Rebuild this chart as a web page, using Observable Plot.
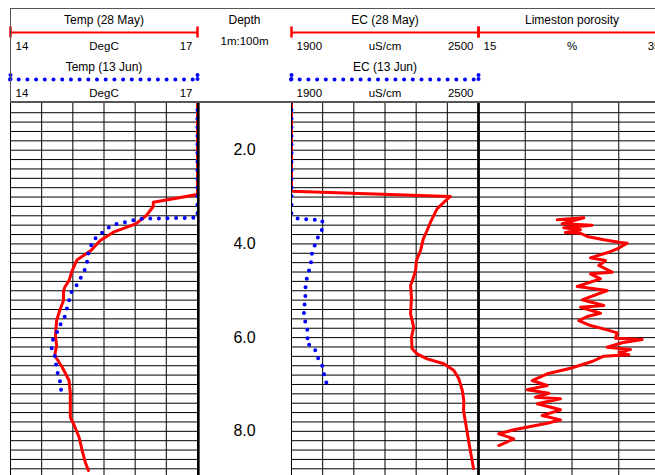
<!DOCTYPE html>
<html><head><meta charset="utf-8">
<script src="https://cdn.jsdelivr.net/npm/d3@7"></script>
<script src="https://cdn.jsdelivr.net/npm/@observablehq/plot@0.6"></script>
<style>
html,body{margin:0;padding:0;background:#fff;}
#chart{position:relative;width:655px;height:475px;overflow:hidden;background:#fff;font-family:"Liberation Sans",Arial,sans-serif;}
#chart svg{position:absolute;overflow:visible;}
.ln{position:absolute;background:#555;}
</style></head><body><div id="chart"></div>
<script>
// ---------- data ----------
const tempTicks = [14, 14.5, 15, 15.5, 16, 16.5, 17];
const ecTicks = [1900, 2000, 2100, 2200, 2300, 2400, 2500];
const poroTicks = [15, 20, 25, 30, 35];
const depthLabels = [2, 4, 6, 8];
const tempLabels = ["14", "DegC", "17"];
const ecLabels = ["1900", "uS/cm", "2500"];
const poroLabels = ["15", "%", "35"];

const tempMayDepth = [0.96, 2.946, 3.110, 3.202, 3.394, 3.571, 3.750, 3.927, 4.141, 4.339, 4.418, 4.604, 4.781, 4.924, 5.031, 5.208, 5.422, 5.635, 5.955, 6.169, 6.382, 6.632, 6.916, 7.193, 7.699, 7.834, 8.126, 8.410, 8.660, 8.837];
const tempMay = [17, 17, 16.29, 16.29, 16.18, 16.01, 15.65, 15.44, 15.29, 15.07, 15.04, 14.98, 14.94, 14.87, 14.85, 14.85, 14.79, 14.74, 14.72, 14.74, 14.71, 14.83, 14.94, 14.96, 14.96, 15.01, 15.10, 15.15, 15.20, 15.25];

const tempJunDepth = [0.96, 3.44, 3.464, 3.516, 3.550, 3.592, 3.699, 3.821, 3.927, 4.092, 4.226, 4.376, 4.532, 4.689, 4.852, 4.980, 5.138, 5.279, 5.443, 5.599, 5.742, 5.906, 6.047, 6.233, 6.389, 6.568, 6.730, 6.901, 7.101, 7.285];
const tempJun = [17, 17, 16.05, 15.91, 15.78, 15.64, 15.52, 15.42, 15.32, 15.28, 15.24, 15.23, 15.20, 15.14, 15.08, 14.99, 14.95, 14.93, 14.89, 14.86, 14.79, 14.74, 14.68, 14.66, 14.71, 14.73, 14.75, 14.79, 14.81, 14.82];

const ecMayDepth = [0.96, 2.875, 2.988, 3.110, 3.251, 3.358, 3.537, 3.714, 3.891, 4.141, 4.354, 4.568, 4.745, 4.888, 5.138, 5.492, 5.778, 5.992, 6.239, 6.346, 6.453, 6.559, 6.702, 6.880, 7.129, 7.343, 7.556, 8.196, 8.794];
const ecMay = [1900, 1900, 2410, 2389, 2367, 2359, 2346, 2335, 2323, 2314, 2301, 2298, 2290, 2282, 2285, 2282, 2292, 2285, 2287, 2303, 2335, 2389, 2421, 2437, 2448, 2453, 2452, 2468, 2484];

const ecJunDepth = [0.96, 3.358, 3.451, 3.473, 3.479, 3.501, 3.678, 3.842, 3.998, 4.162, 4.348, 4.525, 4.711, 4.873, 5.065, 5.244, 5.422, 5.599, 5.812, 5.955, 6.120, 6.205, 6.312, 6.453, 6.611, 6.773, 6.922, 7.087];
const ecJun = [1900, 1900, 1913, 1942, 1970, 1999, 1999, 1986, 1977, 1966, 1964, 1958, 1950, 1945, 1945, 1943, 1939, 1942, 1950, 1954, 1947, 1972, 1979, 1986, 1999, 2004, 2011, 2015];

const poroDepth = [3.486, 3.443, 3.571, 3.601, 3.656, 3.699, 3.757, 3.772, 3.842, 3.913, 3.964, 3.985, 4.105, 4.177, 4.297, 4.354, 4.461, 4.604, 4.638, 4.745, 4.909, 4.995, 5.193, 5.315, 5.351, 5.479, 5.550, 5.635, 5.742, 5.834, 5.898, 6.013, 6.041, 6.111, 6.205, 6.254, 6.312, 6.367, 6.397, 6.510, 6.653, 6.773, 6.916, 7.023, 7.114, 7.187, 7.272, 7.306, 7.413, 7.541, 7.663, 7.755, 7.827, 7.968, 8.053, 8.160, 8.303];
const poro = [23.42, 26.26, 23.95, 27.16, 24.12, 25.91, 24.30, 25.91, 26.63, 28.40, 30.01, 30.90, 29.83, 28.94, 26.98, 28.58, 27.87, 29.30, 26.98, 28.05, 25.56, 28.76, 26.09, 28.40, 25.91, 28.05, 26.63, 25.73, 26.98, 28.76, 29.83, 29.65, 32.51, 30.37, 28.76, 31.26, 30.01, 31.07, 28.40, 27.16, 24.84, 22.35, 20.74, 22.35, 20.21, 22.52, 21.10, 23.77, 21.28, 23.77, 21.81, 23.77, 22.35, 18.78, 17.17, 18.78, 17.17];

// ---------- layout ----------
const RED = "#ff0000", BLUE = "#0000ff";
const FONT = '"Liberation Sans", Arial, sans-serif';
const PAD = 6;
const HEADER_TOP = 8, HEADER_H = 95, TRACK_TOP = 101, TRACK_H = 374;
const depthDomain = [0.9605, 8.943];
const gridDepths = d3.range(6, 45).map(i => i / 5);
const chart = document.getElementById("chart");

const rows = (depths, values) => values.map((v, i) => ({v, d: depths[i]}));

// borders: [value, width, dx]
const tracks = [
  {left: 10, width: 187, domain: [14, 17], ticks: tempTicks,
   title1: "Temp (28 May)", labels1: tempLabels, title2: "Temp (13 Jun)", labels2: tempLabels,
   borders: [[14, 1, 0], [17, 2.3, 1]],
   red: rows(tempMayDepth, tempMay), blue: rows(tempJunDepth, tempJun)},
  {left: 291, width: 187, domain: [1900, 2500], ticks: ecTicks,
   title1: "EC (28 May)", labels1: ecLabels, title2: "EC (13 Jun)", labels2: ecLabels,
   borders: [[1900, 1, 0], [2500, 2.3, 0]],
   red: rows(ecMayDepth, ecMay), blue: rows(ecJunDepth, ecJun)},
  {left: 478, width: 187, domain: [15, 35], ticks: poroTicks,
   title1: "Limeston porosity", labels1: poroLabels,
   borders: [[15, 2.3, 0]],
   red: rows(poroDepth, poro)}
];

function place(svg, left, top) {
  svg.style.position = "absolute";
  svg.style.left = left + "px";
  svg.style.top = top + "px";
  chart.appendChild(svg);
}

function labelRow(labels, lo, hi, y) {
  const mid = (lo + hi) / 2;
  return [
    Plot.text([labels[0]], {x: lo, y, dx: 5, text: d => d, textAnchor: "start", fontSize: 11.5}),
    Plot.text([labels[1]], {x: mid, y, text: d => d, fontSize: 11.5}),
    Plot.text([labels[2]], {x: hi, y, dx: -5, text: d => d, textAnchor: "end", fontSize: 11.5})
  ];
}

function headerPlot(t) {
  const [lo, hi] = t.domain, mid = (lo + hi) / 2;
  const marks = [
    Plot.text([t.title1], {x: mid, y: 12, text: d => d, fontSize: 12}),
    Plot.ruleY([24], {x1: lo, x2: hi, stroke: RED, strokeWidth: 2}),
    Plot.ruleX([lo, hi], {y1: 18.5, y2: 29.5, stroke: RED, strokeWidth: 2.5}),
    ...labelRow(t.labels1, lo, hi, 38)
  ];
  if (t.title2) {
    marks.push(
      Plot.text([t.title2], {x: mid, y: 58.5, text: d => d, fontSize: 12}),
      Plot.ruleY([71], {x1: lo, x2: hi, stroke: BLUE, strokeWidth: 4, strokeDasharray: "0 8.7", strokeLinecap: "round"}),
      Plot.ruleX([lo, hi], {y1: 67, y2: 75, stroke: BLUE, strokeWidth: 4, strokeDasharray: "0 4", strokeLinecap: "round"}),
      ...labelRow(t.labels2, lo, hi, 84.5)
    );
  }
  return Plot.plot({
    width: t.width + 2 * PAD, height: HEADER_H,
    marginLeft: PAD, marginRight: PAD, marginTop: 0, marginBottom: 0,
    x: {domain: t.domain, axis: null},
    y: {domain: [0, HEADER_H], range: [0, HEADER_H], axis: null},
    style: {fontFamily: FONT, background: "transparent", overflow: "visible", color: "#000"},
    marks
  });
}

function trackPlot(t) {
  const [lo, hi] = t.domain;
  const marks = [
    Plot.ruleY(gridDepths, {x1: lo, x2: hi, stroke: "#000", strokeWidth: 1}),
    Plot.ruleX(t.ticks, {stroke: "#000", strokeWidth: 1})
  ];
  marks.push(Plot.line(t.red, {x: "v", y: "d", stroke: RED, strokeWidth: 3, clip: true}));
  if (t.blue) marks.push(Plot.line(t.blue, {x: "v", y: "d", stroke: BLUE, strokeWidth: 4, strokeDasharray: "0 8.6", strokeLinecap: "round", clip: true}));
  marks.push(...t.borders.map(([v, w, dx]) => Plot.ruleX([v], {stroke: "#000", strokeWidth: w, dx})));
  return Plot.plot({
    width: t.width + 2 * PAD, height: TRACK_H,
    marginLeft: PAD, marginRight: PAD, marginTop: 0, marginBottom: 0,
    x: {domain: t.domain, axis: null},
    y: {domain: depthDomain, range: [0, TRACK_H], axis: null},
    style: {fontFamily: FONT, background: "transparent", overflow: "visible"},
    marks
  });
}

// depth column
const depthHeader = Plot.plot({
  width: 94, height: HEADER_H, margin: 0,
  x: {domain: [0, 1], axis: null},
  y: {domain: [0, HEADER_H], range: [0, HEADER_H], axis: null},
  style: {fontFamily: FONT, background: "transparent", overflow: "visible", color: "#000"},
  marks: [
    Plot.text(["Depth"], {x: 0.5, y: 12, text: d => d, fontSize: 12}),
    Plot.text(["1m:100m"], {x: 0.5, y: 33, text: d => d, fontSize: 11.5})
  ]
});
const depthTrack = Plot.plot({
  width: 94, height: TRACK_H, margin: 0,
  x: {domain: [0, 1], axis: null},
  y: {domain: depthDomain, range: [0, TRACK_H], axis: null},
  style: {fontFamily: FONT, background: "transparent", overflow: "visible", color: "#000"},
  marks: [
    Plot.text(depthLabels, {x: 0.5, y: d => d, text: d => d.toFixed(1), fontSize: 16})
  ]
});

for (const t of tracks) place(trackPlot(t), t.left - PAD, TRACK_TOP);
place(depthTrack, 197, TRACK_TOP);
for (const t of tracks) place(headerPlot(t), t.left - PAD, HEADER_TOP);
place(depthHeader, 197, HEADER_TOP);

// header box lines
function line(l, t, w, h) {
  const d = document.createElement("div");
  d.className = "ln";
  Object.assign(d.style, {left: l + "px", top: t + "px", width: w + "px", height: h + "px"});
  chart.appendChild(d);
}
line(10, 8, 645, 1);
line(10, 8, 1, 95);
line(10, 101, 645, 2);
</script>
</body></html>
